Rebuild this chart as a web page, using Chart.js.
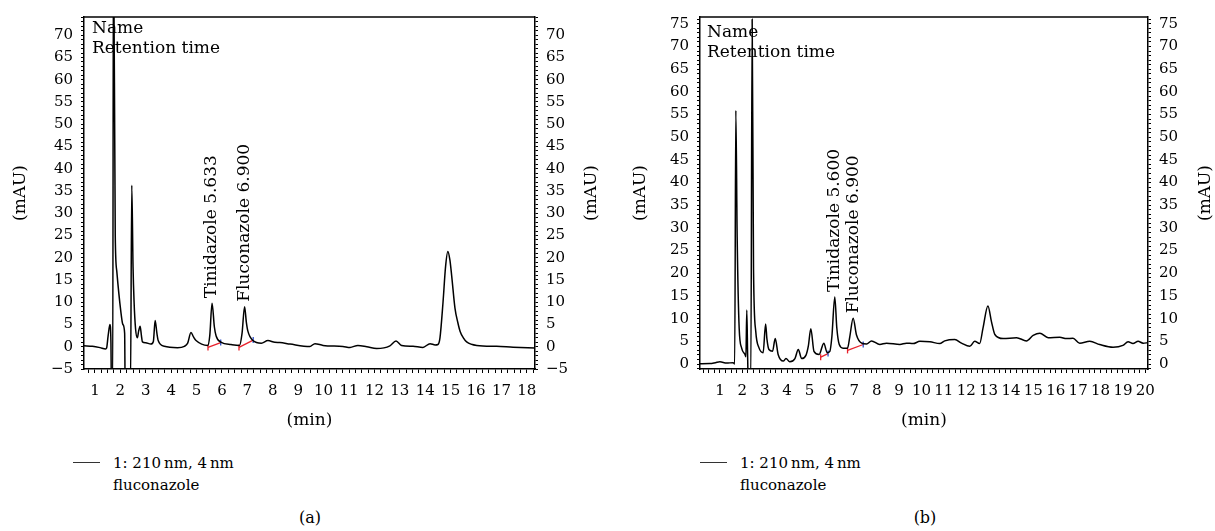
<!DOCTYPE html>
<html>
<head>
<meta charset="utf-8">
<title>Chromatograms</title>
<script src="https://cdn.jsdelivr.net/npm/chart.js@4.4.1/dist/chart.umd.min.js"></script>
<style>
  body { margin: 0; background: #fff; font-family: "DejaVu Serif", serif; color: #000; }
  #page { position: relative; width: 1215px; height: 531px; overflow: hidden; }
  canvas { position: absolute; top: 0; }
  .leg { position: absolute; font-size: 15px; line-height: 22px; }
  .leg .swatch { position: absolute; left: 0; top: 10px; width: 27px; border-top: 1.5px solid #333; }
  .leg .txt { position: absolute; left: 40px; top: 0; white-space: nowrap; }
  .cap { position: absolute; top: 508px; font-size: 16px; width: 60px; text-align: center; }
</style>
</head>
<body>
<div id="page">
  <canvas id="chartA" width="607" height="440" style="left:0"></canvas>
  <canvas id="chartB" width="608" height="440" style="left:607px"></canvas>

  <div class="leg" style="left:73px; top:452px">
    <div class="swatch"></div>
    <div class="txt">1: 210&#8201;nm, 4&#8201;nm<br>fluconazole</div>
  </div>
  <div class="leg" style="left:700px; top:452px">
    <div class="swatch"></div>
    <div class="txt">1: 210&#8201;nm, 4&#8201;nm<br>fluconazole</div>
  </div>
  <div class="cap" style="left:280px">(a)</div>
  <div class="cap" style="left:895px">(b)</div>
</div>

<script>
// chromatogram (a): retention time (min) and absorbance (mAU)
const timeA = [0.57, 0.9, 1.2, 1.42, 1.46, 1.52, 1.59, 1.63, 1.65, 1.70, 1.73, 1.80, 1.86, 2.02, 2.10, 2.17, 2.19,
  2.40, 2.45, 2.50, 2.54, 2.60, 2.67, 2.72, 2.78, 2.83, 2.87, 3.0, 3.2, 3.30, 3.37, 3.44, 3.49, 3.73, 4.25, 4.52,
  4.65, 4.78, 4.88, 4.98, 5.44, 5.52, 5.61, 5.70, 5.77, 5.97, 6.36, 6.69, 6.79, 6.89, 6.96, 7.02, 7.22, 7.55, 7.81,
  8.08, 8.28, 8.68, 9.46, 9.66, 9.98, 10.76, 11.04, 11.35, 11.70, 12.09, 12.61, 12.85, 13.07, 13.52, 13.91, 14.19,
  14.39, 14.5, 14.58, 14.7, 14.8, 14.89, 14.97, 15.04, 15.17, 15.28, 15.37, 15.5, 15.63, 16.03, 16.81, 17.46, 18.32];
const mauA = [0.2, 0.1, -0.2, -0.5, -0.3, 2.5, 5.0, 1.0, -9, -9, 95, 25, 17, 7.9, 5.0, 3.0, -9,
  -9, 36.3, 18, 10.2, 4.0, 2.0, 3.5, 4.6, 2.5, 1.1, 0.9, 0.6, 1.2, 5.9, 3.0, 1.4, 0.1, -0.2, 0.1,
  0.8, 3.2, 2.2, 1.4, 0.3, 2.5, 9.8, 4.5, 2.4, 1.0, 0.5, 0.3, 3.0, 9.0, 5.5, 3.5, 1.4, 0.8, 1.4,
  1.0, 0.95, 0.6, 0.07, 0.7, 0.3, 0.07, -0.15, 0.3, 0, -0.4, 0.2, 1.3, 0.3, 0.1, -0.15, 0.7,
  0.4, 0.5, 2.0, 10, 18, 21.4, 19.5, 16.0, 8.7, 5.5, 3.5, 2.0, 1.1, 0.3, 0.1, -0.1, -0.3];

// chromatogram (b)
const timeB = [0.11, 0.55, 0.8, 1.0, 1.3, 1.59, 1.66, 1.71, 1.77, 1.86, 1.97, 2.12, 2.16, 2.20, 2.24,
  2.26, 2.38, 2.44, 2.50, 2.6, 2.75, 2.93, 3.04, 3.1, 3.19, 3.35, 3.47, 3.6, 3.83, 3.95, 4.12, 4.35,
  4.5, 4.65, 4.84, 4.95, 5.06, 5.2, 5.43, 5.64, 5.79, 5.91, 6.0, 6.13, 6.22, 6.33, 6.5, 6.7, 6.8, 6.95, 7.1, 7.33,
  7.55, 7.77, 8.14, 8.44, 9.04, 9.33, 9.63, 9.93, 10.38, 10.82, 11.04, 11.49, 11.79, 12.16, 12.38, 12.6, 12.75,
  12.97, 13.13, 13.28, 13.65, 14.25, 14.69, 14.99, 15.29, 15.66, 16.18, 16.48, 16.77, 17.07, 17.52, 17.96, 18.56,
  19.0, 19.23, 19.45, 19.68, 19.9, 20.12];
const mauB = [0.07, 0.1, 0.3, 0.5, 0.2, 0.3, 0.0, 55.9, 28, 7.9, 3.5, 2.1, 1.6, 11.9, 1.0,
  -3, -3, 76, 21, 7.2, 3.5, 2.5, 8.8, 5.5, 3.2, 2.8, 5.6, 2.1, 0.65, 1.2, 0.5, 1.2,
  3.2, 1.2, 1.9, 4.0, 7.8, 2.8, 2.1, 4.6, 2.5, 2.8, 6.0, 14.8, 8.0, 4.3, 3.5, 3.5, 6.0, 10.1, 6.4, 4.6,
  4.4, 5.1, 4.3, 4.6, 4.3, 4.6, 4.5, 5.0, 4.9, 4.5, 5.1, 5.4, 4.6, 3.9, 5.0, 4.5, 7.9,
  12.8, 9.3, 6.5, 5.6, 5.8, 5.1, 6.3, 6.8, 5.8, 5.9, 5.6, 5.7, 4.6, 5.0, 4.3, 3.7,
  4.1, 4.9, 4.5, 5.0, 4.6, 4.7];

// integration baselines: [start, end] per peak
const baseTimesA = [[5.45, 5.95], [6.67, 7.23]];
const baseMauA = [[-0.15, 0.95], [-0.15, 1.5]];
const baseTimesB = [[5.5, 5.83], [6.7, 7.4]];
const baseMauB = [[1.5, 2.3], [3.0, 4.3]];

// peak labels
const peakNamesA = ['Tinidazole 5.633', 'Fluconazole 6.900'];
const peakTimesA = [5.61, 6.89];
const peakMauA = [9.8, 9.0];
const peakNamesB = ['Tinidazole 5.600', 'Fluconazole 6.900'];
const peakTimesB = [6.13, 6.95];
const peakMauB = [14.8, 10.1];

// tick labels
const xLabelsA = [1, 2, 3, 4, 5, 6, 7, 8, 9, 10, 11, 12, 13, 14, 15, 16, 17, 18];
const yLabelsA = [-5, 0, 5, 10, 15, 20, 25, 30, 35, 40, 45, 50, 55, 60, 65, 70];
const xLabelsB = [1, 2, 3, 4, 5, 6, 7, 8, 9, 10, 11, 12, 13, 14, 15, 16, 17, 18, 19, 20];
const yLabelsB = [0, 5, 10, 15, 20, 25, 30, 35, 40, 45, 50, 55, 60, 65, 70, 75];

const FONT = '"DejaVu Serif", serif';

const minorTicks = (min, max, step) => {
  const out = [];
  for (let k = Math.ceil(min / step - 1e-9); k * step <= max + 1e-9; k++) {
    out.push({ value: Math.round(k * step * 1000) / 1000 });
  }
  return out;
};

const fmt = v => (v < 0 ? '\u2212' + Math.abs(v) : String(v));

// box top edge, header text, peak labels and right-hand axis title
const decorations = {
  id: 'decorations',
  afterDraw(chart, args, opts) {
    const { ctx, chartArea: a, scales } = chart;
    ctx.save();
    ctx.strokeStyle = '#000';
    ctx.lineWidth = 1.5;
    ctx.beginPath();
    ctx.moveTo(a.left, a.top);
    ctx.lineTo(a.right, a.top);
    ctx.stroke();

    ctx.fillStyle = '#000';
    ctx.font = '17px ' + FONT;
    ctx.textAlign = 'left';
    ctx.textBaseline = 'alphabetic';
    ctx.fillText('Name', a.left + opts.headX, opts.headY);
    ctx.fillText('Retention time', a.left + opts.headX, opts.headY + 20);

    opts.names.forEach((name, i) => {
      const px = scales.x.getPixelForValue(opts.times[i]);
      const py = scales.y.getPixelForValue(opts.heights[i]);
      ctx.save();
      ctx.translate(px, py - 5);
      ctx.rotate(-Math.PI / 2);
      ctx.textAlign = 'left';
      ctx.textBaseline = 'middle';
      ctx.fillText(name, 0, 0);
      ctx.restore();
    });

    ctx.save();
    ctx.translate(chart.width - opts.rightTitleOffset, (a.top + a.bottom) / 2);
    ctx.rotate(-Math.PI / 2);
    ctx.textAlign = 'center';
    ctx.textBaseline = 'middle';
    ctx.fillText('(mAU)', 0, 0);
    ctx.restore();
    ctx.restore();
  }
};

function makeChart(id, s) {
  const datasets = [{
    data: s.time.map((t, i) => ({ x: t, y: s.mau[i] })),
    borderColor: '#000',
    borderWidth: 1.5,
    pointRadius: 0,
    cubicInterpolationMode: 'monotone'
  }];
  s.baseTimes.forEach((bt, i) => {
    datasets.push({
      data: bt.map((t, j) => ({ x: t, y: s.baseMau[i][j] })),
      borderColor: '#e8202a',
      borderWidth: 1.3,
      pointStyle: 'line',
      rotation: 90,
      pointRadius: 3,
      pointBorderWidth: 1.3,
      pointBorderColor: ['#e8202a', '#3050c8'],
      tension: 0
    });
  });

  const tickFont = { family: FONT, size: 15 };
  const yAxis = (position, width) => ({
    type: 'linear',
    position,
    min: s.yMin,
    max: s.yMax,
    afterBuildTicks: sc => { sc.ticks = minorTicks(s.yMin, s.yMax, 1); },
    afterFit: sc => { sc.width = width; },
    ticks: {
      autoSkip: false,
      padding: 8,
      color: '#000',
      font: tickFont,
      callback: v => (s.yLabels.includes(v) ? fmt(v) : '')
    },
    grid: { drawOnChartArea: false, tickLength: 3, tickColor: '#000', tickWidth: 1 },
    border: { display: true, color: '#000', width: 1.5 },
    title: {
      display: position === 'left',
      text: '(mAU)',
      color: '#000',
      font: { family: FONT, size: 17 },
      padding: { top: s.leftTitlePad, bottom: 0 }
    }
  });

  return new Chart(document.getElementById(id), {
    type: 'line',
    data: { datasets },
    options: {
      responsive: false,
      animation: false,
      layout: { padding: { top: 11, left: 0, right: 0, bottom: 0 } },
      plugins: {
        legend: { display: false },
        tooltip: { enabled: false },
        decorations: {
          headX: s.headX,
          headY: s.headY,
          names: s.peakNames,
          times: s.peakTimes,
          heights: s.peakMau,
          rightTitleOffset: s.rightTitleOffset
        }
      },
      scales: {
        x: {
          type: 'linear',
          min: s.xMin,
          max: s.xMax,
          afterBuildTicks: sc => { sc.ticks = minorTicks(s.xMin, s.xMax, 0.25); },
          afterFit: sc => { sc.height = 440 - 369; },
          ticks: {
            autoSkip: false,
            maxRotation: 0,
            minRotation: 0,
            padding: 9,
            color: '#000',
            font: tickFont,
            callback: v => (s.xLabels.includes(v) ? String(v) : '')
          },
          grid: { drawOnChartArea: false, tickLength: 4, tickColor: '#000', tickWidth: 1 },
          border: { display: true, color: '#000', width: 1.5 },
          title: {
            display: true,
            text: '(min)',
            color: '#000',
            font: { family: FONT, size: 17 },
            padding: { top: 0, bottom: 9 }
          }
        },
        y: yAxis('left', s.leftW),
        y2: yAxis('right', s.rightW)
      }
    },
    plugins: [decorations]
  });
}

makeChart('chartA', {
  time: timeA, mau: mauA, baseTimes: baseTimesA, baseMau: baseMauA,
  peakNames: peakNamesA, peakTimes: peakTimesA, peakMau: peakMauA,
  xLabels: xLabelsA, yLabels: yLabelsA,
  xMin: 0.57, xMax: 18.32, yMin: -5, yMax: 74.1,
  leftW: 84, rightW: 72, leftTitlePad: 10, rightTitleOffset: 15,
  headX: 8, headY: 33
});

makeChart('chartB', {
  time: timeB, mau: mauB, baseTimes: baseTimesB, baseMau: baseMauB,
  peakNames: peakNamesB, peakTimes: peakTimesB, peakMau: peakMauB,
  xLabels: xLabelsB, yLabels: yLabelsB,
  xMin: 0.11, xMax: 20.12, yMin: -1.1, yMax: 76.5,
  leftW: 93, rightW: 67, leftTitlePad: 23, rightTitleOffset: 9,
  headX: 7, headY: 37
});
</script>
</body>
</html>
